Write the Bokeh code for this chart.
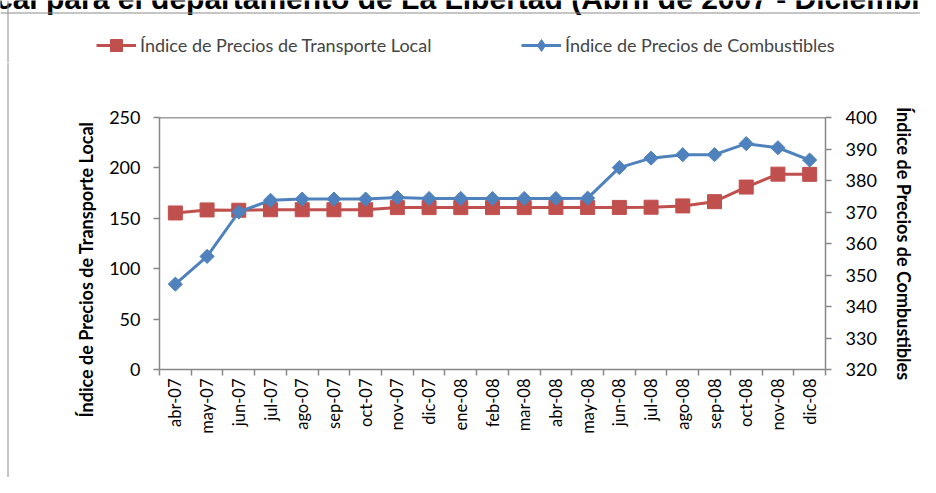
import numpy as np
from bokeh.plotting import figure
from bokeh.layouts import column, row
from bokeh.models import (Range1d, LinearAxis, FixedTicker, Legend, LegendItem,
                          Label, Span)
from bokeh.embed import file_html
from bokeh.resources import INLINE

# ---- data ----
meses = ["abr-07", "may-07", "jun-07", "jul-07", "ago-07", "sep-07", "oct-07",
         "nov-07", "dic-07", "ene-08", "feb-08", "mar-08", "abr-08", "may-08",
         "jun-08", "jul-08", "ago-08", "sep-08", "oct-08", "nov-08", "dic-08"]
transporte = [155.3, 158.3, 158.0, 158.5, 158.5, 158.5, 158.5, 160.6, 160.6,
              160.6, 160.6, 160.6, 160.8, 160.8, 160.8, 161.0, 162.3, 166.5,
              181.0, 193.8, 193.6]
combustibles = [347.1, 355.9, 370.0, 373.7, 374.1, 374.1, 374.1, 374.6, 374.3,
                374.3, 374.3, 374.3, 374.3, 374.4, 384.1, 387.1, 388.2, 388.2,
                391.7, 390.4, 386.5]
ticks_izq = [0, 50, 100, 150, 200, 250]
ticks_der = [320, 330, 340, 350, 360, 370, 380, 390, 400]

titulo = ("Índice de Precios de Transporte Local para el departamento de "
          "La Libertad  (Abril de 2007 - Diciembre de 2008)")
lab_transp = "Índice de Precios de Transporte Local"
lab_comb = "Índice de Precios de Combustibles"

RED = "#C0504D"
BLUE = "#4F81BD"
AX = "#878787"
BORDER = "#8c8c8c"
FONT = "Lato"

n = len(meses)
xc = list(np.arange(n) + 0.5)

W, H = 920, 477
TOP_H = 62
LEFT_W = 100
MAIN_H = H - TOP_H
MAIN_W = W - LEFT_W


def bare(width, height):
    f = figure(width=width, height=height, output_backend="svg",
               toolbar_location=None, x_axis_location=None,
               y_axis_location=None, x_range=Range1d(0, width),
               y_range=Range1d(height, 0), min_border=0, frame_align=False)
    f.outline_line_color = None
    f.grid.visible = False
    f.background_fill_color = "white"
    f.border_fill_color = "white"
    return f


# ---------------- top strip: title, legend, chart border ----------------
top = bare(W, TOP_H)
top.add_layout(Label(x=-503, y=-2, text=titulo, text_align="left",
                     text_baseline="alphabetic", text_font="Liberation Sans",
                     text_font_size="30px", text_font_style="bold",
                     text_color="black"))
top.add_layout(Span(location=12.5, dimension="width", line_color=BORDER,
                    line_width=1))
top.add_layout(Span(location=7.5, dimension="height", line_color=BORDER,
                    line_width=1))
# legend proxies: the same series, lying outside this strip's visible range
trl = top.line(xc, transporte, line_color=RED, line_width=3)
trm = top.scatter(xc, transporte, marker="square", size=13, fill_color=RED,
                  line_color=RED)
tbl = top.line(xc, combustibles, line_color=BLUE, line_width=3)
tbm = top.scatter(xc, combustibles, marker="diamond", size=13,
                  fill_color=BLUE, line_color=BLUE)
leg1 = Legend(items=[LegendItem(label=lab_transp, renderers=[trl, trm])],
              location=(96, 2), orientation="horizontal", padding=0,
              margin=0, border_line_color=None, background_fill_alpha=0,
              glyph_width=40, glyph_height=30, label_standoff=4,
              label_text_font=FONT, label_text_font_size="18px")
leg2 = Legend(items=[LegendItem(label=lab_comb, renderers=[tbl, tbm])],
              location=(521, 2), orientation="horizontal", padding=0,
              margin=0, border_line_color=None, background_fill_alpha=0,
              glyph_width=40, glyph_height=30, label_standoff=4,
              label_text_font=FONT, label_text_font_size="18px")
top.add_layout(leg1)
top.add_layout(leg2)

# ---------------- left strip: border + left axis title ----------------
left = bare(LEFT_W, MAIN_H)
left.add_layout(Span(location=7.5, dimension="height", line_color=BORDER,
                     line_width=1))
left.add_layout(Label(x=85, y=269 - TOP_H, text=lab_transp, angle=np.pi / 2,
                      text_align="center", text_baseline="middle",
                      text_font=FONT, text_font_size="18px",
                      text_font_style="bold", text_color="black"))

# ---------------- main chart ----------------
p = figure(width=MAIN_W, height=MAIN_H, output_backend="svg",
           toolbar_location=None, frame_align=False,
           x_range=Range1d(0, n), y_range=Range1d(ticks_izq[0], ticks_izq[-1]),
           min_border_left=159 - LEFT_W, min_border_right=W - 825,
           min_border_top=117 - TOP_H, min_border_bottom=H - 369)
p.extra_y_ranges = {"comb": Range1d(ticks_der[0], ticks_der[-1])}
p.outline_line_color = None
p.xgrid.visible = False
p.ygrid.visible = False
p.background_fill_color = "white"
p.border_fill_color = "white"

xa = p.xaxis[0]
xa.ticker = FixedTicker(ticks=xc, minor_ticks=list(range(n + 1)))
xa.major_label_overrides = {float(c): m for c, m in zip(xc, meses)}
xa.major_label_orientation = np.pi / 2
xa.major_tick_line_color = None
xa.major_tick_out = 6
xa.major_tick_in = 0
xa.minor_tick_out = 6
xa.minor_tick_in = 0
xa.minor_tick_line_color = AX
xa.minor_tick_line_width = 1.5
xa.major_label_standoff = 3
xa.axis_line_color = AX
xa.axis_line_width = 1.5
xa.major_label_text_font = FONT
xa.major_label_text_font_size = "16.5px"
xa.major_label_text_color = "black"

ya = p.yaxis[0]
ya.ticker = FixedTicker(ticks=ticks_izq)
ya.major_tick_out = 6
ya.major_tick_in = 0
ya.minor_tick_line_color = None
ya.major_tick_line_color = AX
ya.major_tick_line_width = 1.5
ya.axis_line_color = AX
ya.axis_line_width = 1.5
ya.major_label_standoff = 13
ya.major_label_text_font = FONT
ya.major_label_text_font_size = "18px"
ya.major_label_text_color = "black"

ra = LinearAxis(y_range_name="comb", ticker=FixedTicker(ticks=ticks_der),
                axis_label=lab_comb)
ra.major_tick_out = 6
ra.major_tick_in = 0
ra.minor_tick_line_color = None
ra.major_tick_line_color = AX
ra.major_tick_line_width = 1.5
ra.axis_line_color = AX
ra.axis_line_width = 1.5
ra.major_label_standoff = 14
ra.major_label_text_font = FONT
ra.major_label_text_font_size = "18px"
ra.major_label_text_color = "black"
ra.axis_label_text_font = FONT
ra.axis_label_text_font_size = "18px"
ra.axis_label_text_font_style = "bold"
ra.axis_label_text_color = "black"
ra.axis_label_standoff = 13
p.add_layout(ra, "right")

p.add_layout(Span(location=ticks_izq[-1], dimension="width",
                  line_color="#404040", line_width=1.5))

p.line(xc, transporte, line_color=RED, line_width=3)
p.scatter(xc, transporte, marker="square", size=14, fill_color=RED,
          line_color=RED)
p.line(xc, combustibles, y_range_name="comb", line_color=BLUE, line_width=3)
p.scatter(xc, combustibles, y_range_name="comb", marker="square",
          angle=np.pi / 4, size=10, fill_color=BLUE, line_color=BLUE)

layout = column(top, row(left, p, spacing=0), spacing=0)
open("out.html", "w").write(file_html(layout, INLINE))
